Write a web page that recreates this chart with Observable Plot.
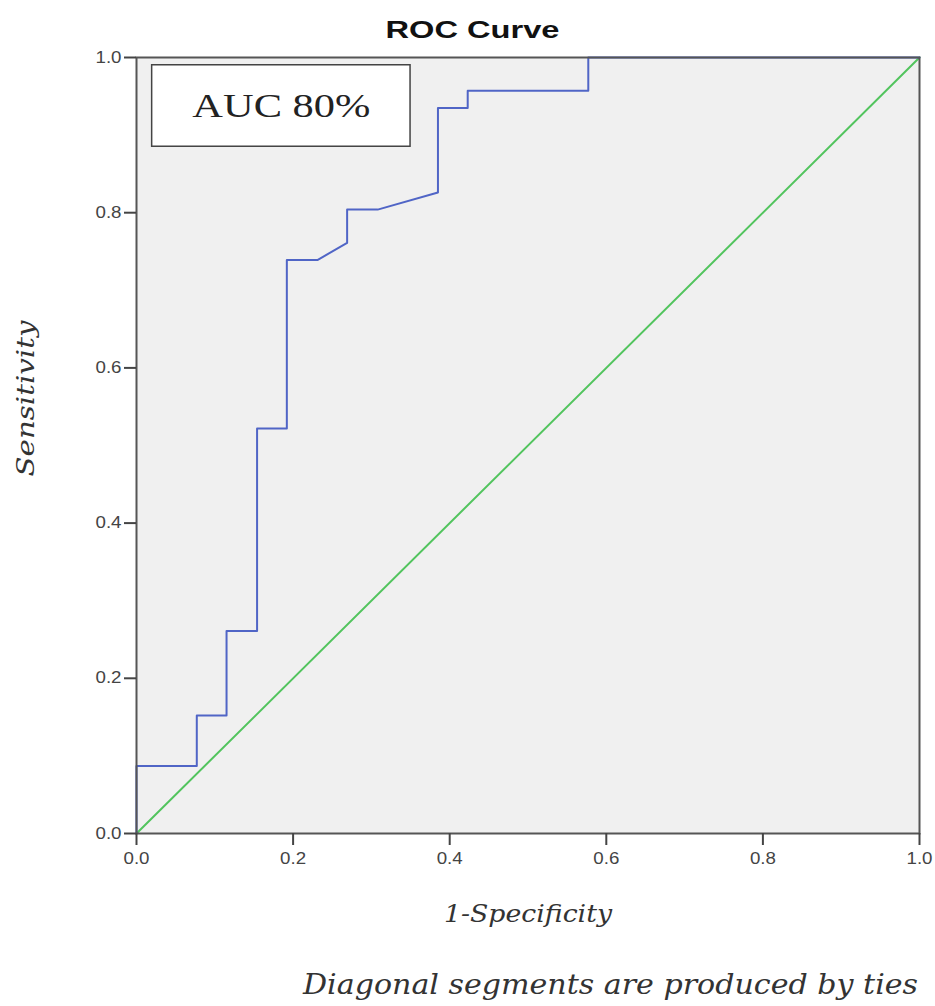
<!DOCTYPE html>
<html><head><meta charset="utf-8">
<script src="https://cdn.jsdelivr.net/npm/d3@7"></script>
<script src="https://cdn.jsdelivr.net/npm/@observablehq/plot@0.6"></script>
<style>body{margin:0;background:#fff}</style>
</head><body><div id="chart"></div>
<script>
// ROC curve (1-Specificity, Sensitivity)
const fpr = [0, 0, 0.077, 0.077, 0.115, 0.115, 0.154, 0.154, 0.192, 0.192, 0.231, 0.269, 0.269, 0.308, 0.385, 0.385, 0.423, 0.423, 0.577, 0.577, 1.0];
const tpr = [0, 0.087, 0.087, 0.152, 0.152, 0.261, 0.261, 0.522, 0.522, 0.739, 0.739, 0.761, 0.804, 0.804, 0.826, 0.935, 0.935, 0.957, 0.957, 1.0, 1.0];
// reference (chance) line
const refX = [0, 1];
const refY = [0, 1];
const tickValues = [0, 0.2, 0.4, 0.6, 0.8, 1.0];
const titleText = "ROC Curve";
const xLabel = "1-Specificity";
const yLabel = "Sensitivity";
const captionText = "Diagonal segments are produced by ties";
const aucLabel = "AUC 80%";
const aucBox = [{x1: 0.02, x2: 0.35, y1: 0.885, y2: 0.99, label: aucLabel}];

const roc = fpr.map((x, i) => ({x, y: tpr[i]}));
const ref = refX.map((x, i) => ({x, y: refY[i]}));

const chart = Plot.plot({
  width: 935, height: 1006,
  marginLeft: 136, marginRight: 16, marginTop: 57, marginBottom: 173,
  x: {domain: [0, 1]},
  y: {domain: [0, 1]},
  style: {background: "#fff", fontFamily: "'Liberation Sans', Arial, sans-serif"},
  marks: [
    Plot.frame({fill: "#f0f0f0"}),
    Plot.line(ref, {x: "x", y: "y", stroke: "#52c45e", strokeWidth: 2}),
    Plot.line(roc, {x: "x", y: "y", stroke: "#5065c6", strokeWidth: 2}),
    Plot.rect(aucBox, {x1: "x1", x2: "x2", y1: "y1", y2: "y2", fill: "white", stroke: "#444", strokeWidth: 1.5}),
    Plot.text(aucBox, {x: d => (d.x1 + d.x2) / 2, y: d => (d.y1 + d.y2) / 2, text: "label",
      fontFamily: "'Liberation Serif', 'Times New Roman', serif", fontSize: 34, fill: "#222", className: "auc-text"}),
    Plot.frame({stroke: "#555", strokeWidth: 2}),
    Plot.axisX({ticks: tickValues, tickSize: 12, tickPadding: 7, tickFormat: d3.format(".1f"),
      label: null, fill: "#444", stroke: "#444", strokeWidth: 2}),
    Plot.axisY({ticks: tickValues, tickSize: 12, tickPadding: 3, tickFormat: d3.format(".1f"),
      label: null, fill: "#444", stroke: "#444", strokeWidth: 2}),
    Plot.text([titleText], {frameAnchor: "top-left", dx: 336, dy: -27, lineAnchor: "middle", textAnchor: "middle",
      fontSize: 24, fontWeight: "bold", fill: "#111", className: "title-text"}),
    Plot.text([xLabel], {frameAnchor: "bottom", dy: 80, lineAnchor: "middle", textAnchor: "middle",
      fontFamily: "'DejaVu Serif', serif", fontStyle: "italic", fontSize: 25, fill: "#333", className: "xlabel-text"}),
    Plot.text([yLabel], {frameAnchor: "left", dx: -111, dy: -47, rotate: -90, lineAnchor: "middle", textAnchor: "middle",
      fontFamily: "'DejaVu Serif', serif", fontStyle: "italic", fontSize: 25, fill: "#333", className: "ylabel-text"}),
    Plot.text([captionText], {frameAnchor: "bottom-left", dx: 474, dy: 152, lineAnchor: "middle", textAnchor: "middle",
      fontFamily: "'DejaVu Serif', serif", fontStyle: "italic", fontSize: 27, fill: "#333", className: "caption-text"})
  ]
});
document.getElementById("chart").appendChild(chart);

// stretch the texts to the widths they have in the reference
const stretch = {"auc-text": 178, "title-text": 174, "xlabel-text": 168, "ylabel-text": 156, "caption-text": 615};
for (const [cls, len] of Object.entries(stretch)) {
  d3.select(chart).selectAll("." + cls + " text")
    .attr("textLength", len).attr("lengthAdjust", "spacingAndGlyphs");
}
// tick labels: larger, like the reference
d3.select(chart).selectAll("text")
  .filter(function() { return /^\d\.\d$/.test(this.textContent); })
  .style("font-size", "16px")
  .attr("textLength", 26).attr("lengthAdjust", "spacingAndGlyphs");
</script>
</body></html>
